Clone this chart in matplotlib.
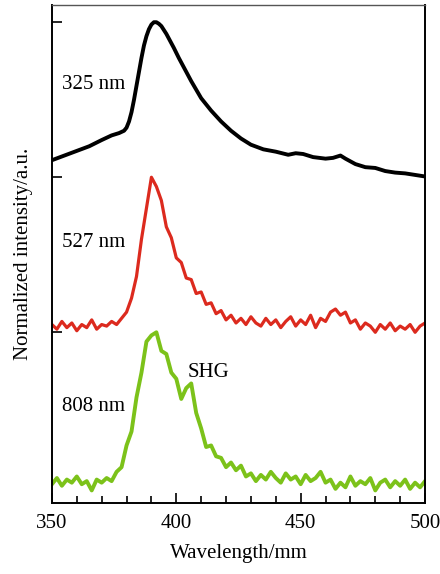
import numpy as np
import matplotlib
matplotlib.use("Agg")
import matplotlib.pyplot as plt

plt.rcParams['font.family'] = ['Liberation Serif', 'DejaVu Serif']

# 325 nm excitation (smooth curve), normalized to 1
wl_325 = [350, 355, 360, 365, 370, 374, 377, 379, 380, 381, 382, 383, 384, 385,
          386, 387, 388, 389, 390, 391, 392, 393, 394, 395, 396, 397, 398, 399,
          401, 403, 406, 410, 414, 418, 422, 426, 430, 435, 440, 445, 448, 451,
          455, 460, 463, 466, 468, 472, 476, 480, 484, 488, 492, 496, 500]
int_325 = [0.11, 0.14, 0.17, 0.20, 0.24, 0.27, 0.285, 0.30, 0.32, 0.36, 0.42,
           0.50, 0.59, 0.68, 0.77, 0.85, 0.91, 0.955, 0.985, 1.0, 1.0, 0.99,
           0.975, 0.95, 0.925, 0.895, 0.865, 0.835, 0.77, 0.71, 0.62, 0.51, 0.43,
           0.36, 0.30, 0.25, 0.21, 0.18, 0.165, 0.145, 0.155, 0.15, 0.13, 0.12,
           0.125, 0.14, 0.12, 0.085, 0.065, 0.06, 0.04, 0.03, 0.025, 0.015, 0.005]

# 527 and 808 nm excitation, sampled every 2 nm
wl_noisy = np.arange(350, 501, 2)
int_527 = [0.05, 0.02, 0.07, 0.03, 0.06, 0.01, 0.05, 0.03, 0.08, 0.02, 0.05,
           0.04, 0.07, 0.05, 0.09, 0.13, 0.22, 0.36, 0.60, 0.80, 1.00, 0.94,
           0.85, 0.68, 0.61, 0.48, 0.45, 0.35, 0.34, 0.25, 0.26, 0.18, 0.19,
           0.12, 0.14, 0.08, 0.11, 0.06, 0.09, 0.05, 0.10, 0.06, 0.04, 0.09,
           0.05, 0.08, 0.03, 0.07, 0.10, 0.04, 0.08, 0.05, 0.11, 0.03, 0.09,
           0.07, 0.13, 0.15, 0.11, 0.13, 0.06, 0.08, 0.02, 0.06, 0.04, 0.00,
           0.05, 0.02, 0.06, 0.01, 0.04, 0.02, 0.05, 0.00, 0.04, 0.06]
int_808 = [0.02, 0.06, 0.01, 0.05, 0.03, 0.07, 0.02, 0.04, -0.02, 0.05, 0.03,
           0.06, 0.04, 0.10, 0.13, 0.27, 0.36, 0.58, 0.74, 0.94, 0.98, 1.00,
           0.88, 0.86, 0.74, 0.70, 0.57, 0.64, 0.67, 0.48, 0.38, 0.26, 0.27,
           0.20, 0.19, 0.13, 0.16, 0.11, 0.14, 0.07, 0.09, 0.04, 0.08, 0.05,
           0.10, 0.06, 0.03, 0.09, 0.05, 0.07, 0.02, 0.08, 0.04, 0.06, 0.10,
           0.03, 0.05, -0.01, 0.03, 0.00, 0.07, 0.01, 0.04, 0.02, 0.06, -0.02,
           0.03, 0.05, 0.00, 0.04, 0.01, 0.05, -0.01, 0.03, 0.00, 0.04]

offsets = [2.1, 1.1, 0.1]
labels = ['325 nm', '527 nm', '808 nm']
colors = ['#000000', '#dc2a1e', '#7cc21a']

fig = plt.figure(figsize=(4.4, 5.74), dpi=100)
ax = fig.add_axes([0.118, 0.124, 0.848, 0.867])

ax.plot(wl_325, np.array(int_325) + offsets[0], color=colors[0], lw=2.8,
        solid_joinstyle='round', solid_capstyle='round')
ax.plot(wl_noisy, np.array(int_527) + offsets[1], color=colors[1], lw=2.3)
ax.plot(wl_noisy, np.array(int_808) + offsets[2], color=colors[2], lw=2.8)

label_y = [2.70, 1.68, 0.62]
for lab, y in zip(labels, label_y):
    ax.text(354, y, lab, fontsize=15, va='center', ha='left')
ax.text(404.5, 0.84, 'SHG', fontsize=15, va='center', ha='left')

ax.set_xlim(350, 500)
ax.set_ylim(0, 3.21)
ax.set_xticks([350, 400, 450, 500])
ax.set_xticks(np.arange(350, 501, 10), minor=True)
ax.set_yticks([o + 1 for o in offsets])
ax.set_yticklabels([])
ax.tick_params(axis='x', which='major', direction='in', length=7, width=1.2,
               labelsize=15, pad=8, top=False)
ax.tick_params(axis='x', which='minor', direction='in', length=5, width=1.2,
               top=False)
ax.tick_params(axis='y', direction='in', length=7, width=1.2, right=False)
for side in ['left', 'bottom', 'right']:
    ax.spines[side].set_linewidth(1.4)
ax.spines['top'].set_linewidth(1.0)
ax.spines['top'].set_color('#555555')

ax.set_xlabel('Wavelength/mm', fontsize=15, labelpad=8)
ax.set_ylabel('Normalized intensity/a.u.', fontsize=15, labelpad=10)

fig.savefig('out.png', dpi=100)
